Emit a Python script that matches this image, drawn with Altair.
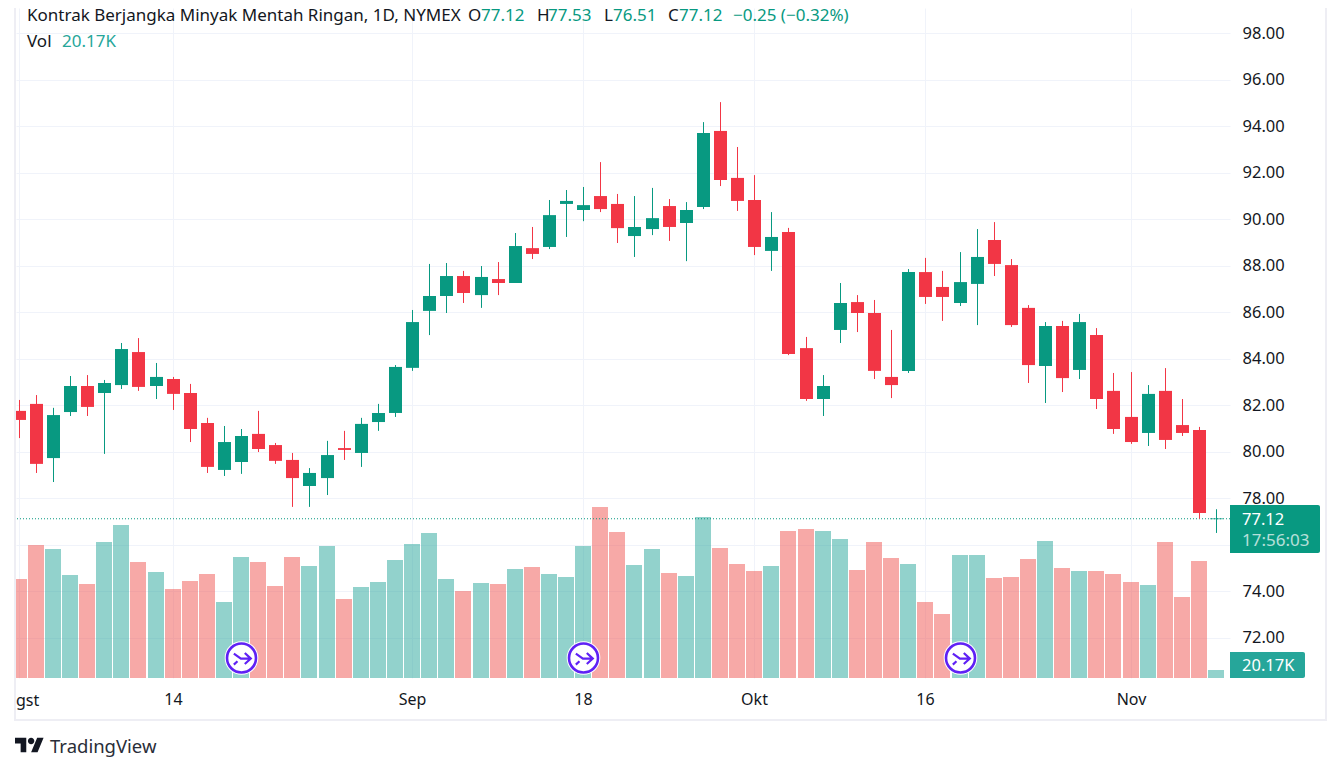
import altair as alt
import pandas as pd

# ---- values ----
opens = [81.76,82.06,79.73,81.71,82.83,82.53,82.87,84.29,82.83,83.13,82.53,81.24,79.22,79.56,80.77,80.29,79.65,78.53,78.87,80.16,
         79.95,81.28,81.67,83.61,86.06,86.70,87.56,86.74,87.43,87.26,88.76,88.81,90.66,90.40,91.00,90.66,89.28,89.58,90.57,89.84,
         90.53,93.80,91.78,90.83,88.64,89.45,84.46,82.27,85.24,86.44,85.97,83.22,83.48,87.73,87.09,86.40,87.22,89.11,88.03,86.19,
         83.69,85.41,83.52,85.02,82.62,81.50,80.81,82.62,81.15,80.94,77.12]
highs = [82.23,82.44,81.89,83.26,83.30,83.09,84.68,84.89,83.82,83.22,82.92,81.46,81.11,80.98,81.76,80.38,79.95,79.30,80.47,80.90,
         81.46,82.06,83.73,86.10,88.08,88.12,87.78,87.99,88.16,89.41,89.67,90.83,91.26,91.39,92.46,91.09,91.00,91.35,90.87,90.74,
         94.18,95.04,93.11,91.90,90.31,89.63,84.94,83.30,87.26,86.74,86.53,85.24,87.86,88.34,87.78,88.59,89.58,89.88,88.29,86.31,
         85.58,85.63,85.93,85.32,83.39,83.43,82.87,83.60,82.27,81.07,77.53]
lows = [80.59,79.09,78.70,81.54,81.54,79.91,82.70,82.62,82.27,81.80,80.42,79.09,78.96,79.05,79.99,79.48,77.63,77.63,78.14,79.65,
        79.35,80.90,81.50,83.48,85.02,85.97,86.40,86.19,86.74,87.26,88.29,88.72,89.24,89.92,90.31,88.98,88.38,89.32,89.07,88.20,
        90.44,91.43,90.36,88.46,87.78,84.16,82.19,81.54,84.68,85.15,83.13,82.31,83.39,86.36,85.63,86.27,85.45,87.56,85.37,82.96,
        82.10,82.57,83.13,81.84,80.77,80.34,80.25,80.12,80.68,77.12,76.51]
closes = [81.37,79.48,81.58,82.83,81.93,82.96,84.42,82.79,83.22,82.49,80.98,79.35,80.42,80.68,80.12,79.61,78.87,79.09,79.86,80.08,
          81.20,81.67,83.65,85.58,86.70,87.56,86.83,87.52,87.26,88.85,88.51,90.18,90.79,90.61,90.44,89.62,89.67,90.05,89.67,90.40,
          93.71,91.69,90.79,88.81,89.24,84.21,82.27,82.83,86.40,85.97,83.48,82.87,87.73,86.66,86.66,87.30,88.38,88.08,85.45,83.73,
          85.41,83.17,85.58,82.27,80.98,80.42,82.49,80.51,80.81,77.37,77.12]
volumes = [249.5,335.2,325.1,259.6,236.9,342.7,385.6,292.3,267.1,224.3,244.4,262.1,191.5,304.9,292.3,231.8,304.9,282.2,332.6,199.1,
           229.3,241.9,297.4,337.7,365.4,249.5,219.2,239.4,236.9,274.7,279.7,262.1,254.5,332.6,430.9,367.9,284.8,325.1,264.6,257.0,
           405.7,327.6,287.3,269.6,282.2,370.4,375.5,370.4,350.3,272.2,342.7,302.4,287.3,191.5,161.3,310.0,310.0,252.0,254.5,299.9,
           345.2,277.2,269.6,269.6,262.1,241.9,234.4,342.7,204.1,294.8,20.17]
tick_positions = [0, 9, 23, 33, 43, 53, 65]
tick_labels = ["", "14", "Sep", "18", "Okt", "16", "Nov"]
price_ticks = [72, 74, 76, 78, 80, 82, 84, 86, 88, 90, 92, 94, 96, 98]
event_positions = [13, 33, 55]
last_price = 77.12

GREEN, RED = "#089981", "#f23645"
VOL_GREEN, VOL_RED = "#26a69a", "#ef5350"
GRID = "#f0f3fa"
BORDER = "#eeeef4"
INK = "#131722"
FONT = "Noto Sans"
W, H = 1214, 670          # plot area
LEFT, TOP = 16, 8         # page position of the plot area

df = pd.DataFrame({"i": range(len(opens)), "open": opens, "high": highs, "low": lows,
                   "close": closes, "vol": volumes})
df["dir"] = ["up" if c >= o else "down" for o, c in zip(opens, closes)]
flat = df[df["open"] == df["close"]]
events = pd.DataFrame({"i": event_positions})
one = pd.DataFrame({"a": [0]})

x_scale = alt.Scale(domain=[-0.1567, 70.813], nice=False, zero=False, round=True, padding=0)
y_scale = alt.Scale(domain=[70.271, 99.088], nice=False, zero=False)
v_scale = alt.Scale(domain=[0, 1688.4], nice=False, zero=True)

label_map = "{" + ",".join(f"'{p}':'{t}'" for p, t in zip(tick_positions, tick_labels)) + "}"
x_axis = alt.Axis(values=tick_positions, labelExpr=f"{label_map}[datum.value]", title=None,
                  domain=False, ticks=False, grid=True, gridColor=GRID, gridWidth=1,
                  labelFont=FONT, labelFontSize=16, labelColor=INK, labelPadding=13,
                  labelOverlap=False, labelBound=False, labelFlush=False)
y_axis = alt.Axis(orient="right", values=price_ticks, format=".2f", title=None,
                  domain=False, ticks=False, grid=True, gridColor=GRID, gridWidth=1,
                  labelFont=FONT, labelFontSize=16.5, labelColor=INK, labelPadding=12,
                  labelAlign="left", labelOverlap=False, labelBound=False, labelFlush=False)
x_plain = alt.X("i:Q", scale=x_scale, axis=x_axis)

vol_layer = alt.Chart(df).mark_bar(size=16, opacity=0.5, clip=True).encode(
    x=x_plain,
    y=alt.Y("vol:Q", scale=v_scale, axis=None),
    color=alt.Color("dir:N", scale=alt.Scale(domain=["up", "down"], range=[VOL_GREEN, VOL_RED]), legend=None),
)
price_rule = alt.Chart(one).mark_rule(color=GREEN, strokeWidth=1, strokeDash=[1, 2]).encode(
    y=alt.Y("p:Q", scale=y_scale, axis=y_axis),
).transform_calculate(p=str(last_price))
wicks = alt.Chart(df).mark_rule(strokeWidth=1, clip=True, xOffset=0.5).encode(
    x=x_plain,
    y=alt.Y("low:Q", scale=y_scale, axis=None),
    y2="high:Q",
    color=alt.Color("dir:N", scale=alt.Scale(domain=["up", "down"], range=[GREEN, RED]), legend=None),
)
bodies = alt.Chart(df).mark_bar(size=13, clip=True, xOffset=0.5).encode(
    x=x_plain,
    y=alt.Y("open:Q", scale=y_scale, axis=None),
    y2="close:Q",
    color=alt.Color("dir:N", scale=alt.Scale(domain=["up", "down"], range=[GREEN, RED]), legend=None),
)
flat_ticks = alt.Chart(flat).mark_tick(size=13, thickness=1, color=GREEN, orient="horizontal", xOffset=0.5).encode(
    x=x_plain,
    y=alt.Y("close:Q", scale=y_scale, axis=None),
)

ARROW = "M-.51 -.29L-.04 .04H.62M.22 -.33L.62 .04L.22 .4M-.51 .44L-.27 .22"
LOGO = ("M-0.222 0.5H-0.611V-0.111H-1V-0.5H-0.222Z"
        "M0.556 0.5H0.111L0.528 -0.5H0.972Z"
        "M-0.111 -0.278A0.222 0.222 0 1 0 0.333 -0.278A0.222 0.222 0 1 0 -0.111 -0.278Z")
PURPLE = "#5f21f5"
ICON_Y = 658 - TOP
halo = alt.Chart(events).mark_point(shape="circle", filled=True, color="white", size=1130, opacity=1, xOffset=0.5).encode(
    x=x_plain, y=alt.value(ICON_Y))
ring = alt.Chart(events).mark_point(shape="circle", filled=True, fill="white", stroke=PURPLE, strokeWidth=2.6,
                                    size=840, opacity=1, xOffset=0.5).encode(x=x_plain, y=alt.value(ICON_Y))
arrow = alt.Chart(events).mark_point(shape=ARROW, filled=False, stroke=PURPLE, strokeWidth=2.2,
                                     size=900, opacity=1, xOffset=0.5).encode(x=x_plain, y=alt.value(ICON_Y))


def text(s, x, y, color=INK, size=17, align="left", opacity=1.0, weight="normal", font=FONT):
    return alt.Chart(one).mark_text(text=s, align=align, baseline="middle", color=color, fontSize=size,
                                    opacity=opacity, font=font, fontWeight=weight).encode(
        x=alt.value(x - LEFT), y=alt.value(y - TOP))


def box(x0, x1, y0, y1, color, **kw):
    return alt.Chart(one).mark_rect(color=color, **kw).encode(
        x=alt.value(x0 - LEFT), x2=alt.value(x1 - LEFT), y=alt.value(y0 - TOP), y2=alt.value(y1 - TOP))


decor = [
    box(14, 16, TOP, 721, BORDER),
    box(1325, 1327, TOP, 721, BORDER),
    box(14, 1327, 719, 721, BORDER),
    box(1230, 1320, 505, 553, GREEN, cornerRadiusTopRight=2, cornerRadiusBottomRight=2),
    box(1230, 1305, 652, 678, VOL_GREEN, cornerRadiusTopRight=2, cornerRadiusBottomRight=2),
    text("77.12", 1242, 519.5, color="white", size=16.5),
    text("17:56:03", 1242, 541, color="white", opacity=0.7, size=17),
    text("20.17K", 1242, 666, color="white", size=16.5),
    text("gst", 16, 701, size=16),
    text("Kontrak Berjangka Minyak Mentah Ringan, 1D, NYMEX", 27, 16),
    text("O", 468, 16), text("77.12", 481, 16, color=GREEN),
    text("H", 537, 16), text("77.53", 548, 16, color=GREEN),
    text("L", 604, 16), text("76.51", 613, 16, color=GREEN),
    text("C", 668, 16), text("77.12", 679, 16, color=GREEN),
    text("\u22120.25 (\u22120.32%)", 733, 16, color=GREEN),
    text("Vol", 27, 42),
    text("20.17K", 62, 42, color=VOL_GREEN),
    text("TradingView", 50, 747, color="#2a2e39", size=18.5),
    alt.Chart(one).mark_point(shape=LOGO, filled=True, color=INK, size=841, opacity=1).encode(
        x=alt.value(29.5 - LEFT), y=alt.value(745 - TOP)),
]

chart = alt.layer(vol_layer, price_rule, wicks, bodies, flat_ticks, halo, ring, arrow, *decor).resolve_scale(
    y="independent", x="shared", color="independent"
).properties(
    width=W, height=H,
    padding={"left": 8, "top": 0, "right": 102, "bottom": 82},
    autosize=alt.AutoSizeParams(type="none"),
    background="white",
).configure_view(stroke=None)

chart.save("out.html", embed_options={"renderer": "svg", "actions": False})
